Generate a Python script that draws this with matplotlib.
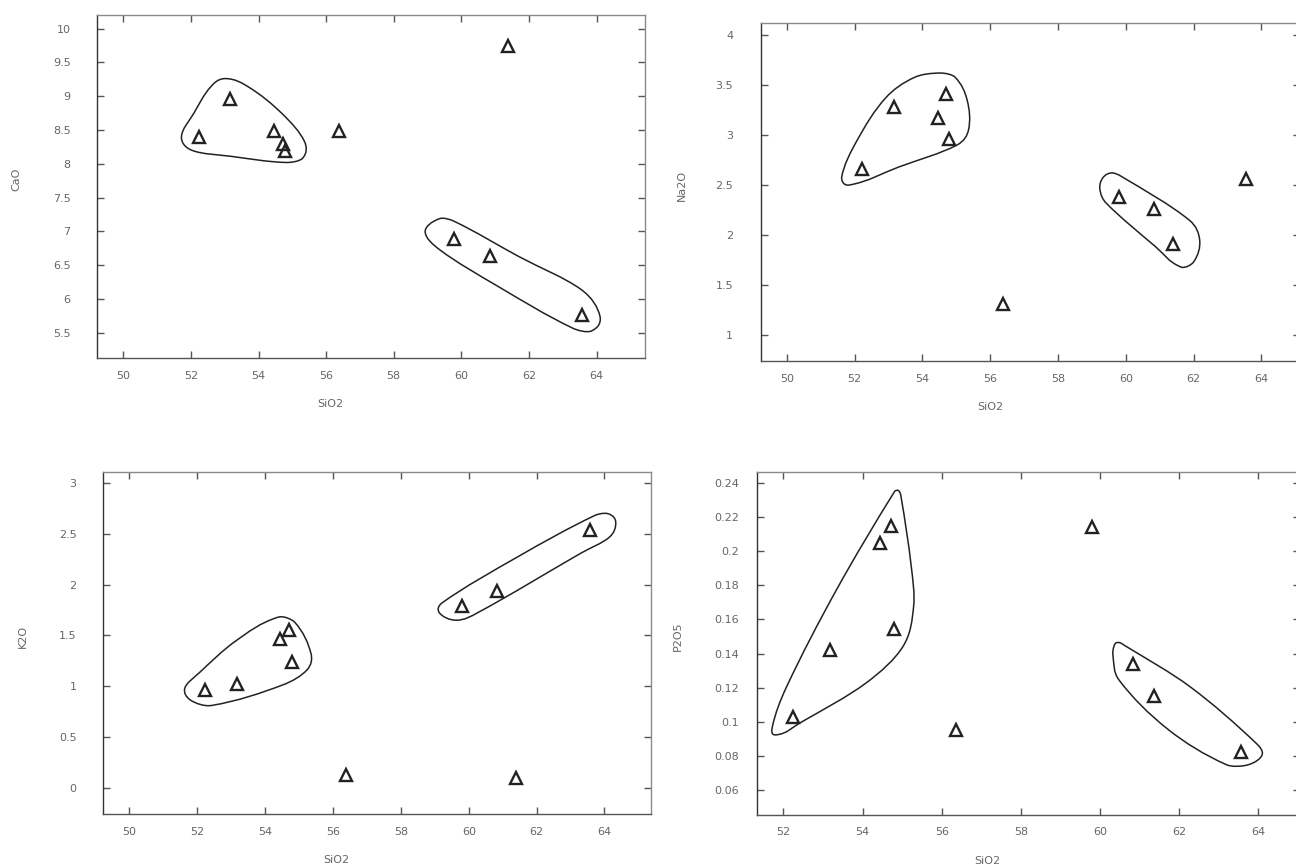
''' SiO2 variation diagrams (CaO, Na2O, K2O, P2O5) with grouped samples '''
import numpy as np
import matplotlib
matplotlib.use("Agg")
import matplotlib.pyplot as plt
from matplotlib.path import Path
from matplotlib.patches import PathPatch


# Sample values
sio2 = [52.23, 53.17, 54.45, 54.71, 54.79, 56.37, 59.79, 60.84, 61.38, 63.56]
cao = [8.40, 8.96, 8.48, 8.30, 8.19, 8.48, 6.89, 6.64, 9.74, 5.77]
na2o = [2.66, 3.28, 3.17, 3.41, 2.96, 1.31, 2.38, 2.26, 1.91, 2.56]
k2o = [0.96, 1.02, 1.46, 1.55, 1.24, 0.12, 1.79, 1.94, 0.10, 2.54]
p2o5 = [0.103, 0.142, 0.205, 0.215, 0.1545, 0.095, 0.214, 0.134, 0.115, 0.0825]

sio2_ticks = [50, 52, 54, 56, 58, 60, 62, 64]
cao_ticks = [5.5, 6, 6.5, 7, 7.5, 8, 8.5, 9, 9.5, 10]
na2o_ticks = [1, 1.5, 2, 2.5, 3, 3.5, 4]
k2o_ticks = [0, 0.5, 1, 1.5, 2, 2.5, 3]
p2o5_ticks = [0.06, 0.08, 0.1, 0.12, 0.14, 0.16, 0.18, 0.2, 0.22, 0.24]

# Hand-drawn group outlines (outline points in data units)
cao_loop1_x = [53.02, 53.69, 54.68, 55.36, 55.30, 54.80, 53.20, 52.03, 51.72, 52.09, 52.59]
cao_loop1_y = [9.26, 9.14, 8.75, 8.33, 8.08, 8.02, 8.11, 8.20, 8.40, 8.75, 9.14]
cao_loop2_x = [59.36, 59.79, 61.70, 63.55, 64.10, 63.85, 63.30, 61.08, 59.36, 58.93]
cao_loop2_y = [7.19, 7.15, 6.63, 6.14, 5.75, 5.53, 5.57, 6.19, 6.73, 7.00]

na2o_loop1_x = [54.53, 54.96, 55.32, 55.36, 55.02, 53.30, 51.84, 51.62, 52.08, 52.94, 53.79]
na2o_loop1_y = [3.62, 3.58, 3.35, 3.05, 2.90, 2.68, 2.50, 2.58, 2.95, 3.38, 3.58]
na2o_loop2_x = [59.55, 59.85, 61.87, 62.18, 62.00, 61.63, 60.89, 59.42, 59.24, 59.30]
na2o_loop2_y = [2.62, 2.59, 2.15, 1.95, 1.73, 1.68, 1.88, 2.32, 2.45, 2.56]

k2o_loop1_x = [54.38, 54.87, 55.35, 55.23, 54.50, 52.42, 51.81, 51.63, 52.05, 53.15]
k2o_loop1_y = [1.68, 1.63, 1.32, 1.16, 1.01, 0.81, 0.86, 0.98, 1.13, 1.45]
k2o_loop2_x = [64.10, 64.33, 64.15, 63.30, 60.24, 59.63, 59.14, 59.21, 61.47, 63.70]
k2o_loop2_y = [2.70, 2.62, 2.47, 2.31, 1.72, 1.65, 1.72, 1.82, 2.28, 2.68]

p2o5_loop1_x = [54.90, 54.97, 55.23, 55.29, 55.02, 54.08, 52.40, 51.82, 51.72, 52.08, 53.34, 54.81]
p2o5_loop1_y = [0.2357, 0.2322, 0.1911, 0.1676, 0.1441, 0.1226, 0.0991, 0.0923,
                0.0972, 0.1206, 0.1774, 0.2351]
p2o5_loop2_x = [60.45, 60.62, 62.27, 63.95, 64.10, 63.74, 63.21, 61.74, 60.48, 60.33, 60.36]
p2o5_loop2_y = [0.1465, 0.1448, 0.1207, 0.0874, 0.0805, 0.0747, 0.0747, 0.0952,
                0.1246, 0.1390, 0.1445]


def loop_path(xs, ys, sx, sy):
    # closed smooth curve through the outline points; handles are sized by
    # the chord length (in axes-like units) so short steps do not overshoot
    q = np.column_stack([xs, ys]) / [sx, sy]
    n = len(q)
    tang = []
    for i in range(n):
        d = q[(i + 1) % n] - q[i - 1]
        tang.append(d / np.hypot(*d))
    verts = [q[0]]
    codes = [Path.MOVETO]
    for i in range(n):
        j = (i + 1) % n
        L = np.hypot(*(q[j] - q[i])) / 3
        verts += [q[i] + tang[i] * L, q[j] - tang[j] * L, q[j]]
        codes += [Path.CURVE4] * 3
    verts = np.array(verts) * [sx, sy]
    return Path(verts, codes)


def panel(rect, y, yname, yticks, xlim, ylim, loops, ypad):
    ax = fig.add_axes(rect)
    ax.plot(sio2, y, linestyle="none", marker="^", markersize=8.5,
            markerfacecolor="none", markeredgecolor="#222222",
            markeredgewidth=1.7)
    sx = (xlim[1] - xlim[0]) / rect[2]
    sy = (ylim[1] - ylim[0]) / rect[3] * 866 / 1296
    for lx, ly in loops:
        ax.add_patch(PathPatch(loop_path(lx, ly, sx, sy), facecolor="none",
                               edgecolor="#222222", linewidth=1.1))
    ax.set_xticks(sio2_ticks)
    ax.set_xticklabels([str(t) for t in sio2_ticks])
    ax.set_yticks(yticks)
    ax.set_yticklabels(["%g" % t for t in yticks])
    # limits after the ticks, so the ticks do not widen the view
    ax.set_xlim(xlim)
    ax.set_ylim(ylim)
    ax.tick_params(axis="both", direction="in", length=5, width=1,
                   top=True, right=True, labelsize=8, labelcolor="#666666",
                   color="#555555")
    ax.tick_params(axis="y", pad=ypad)
    ax.tick_params(axis="x", pad=9)
    ax.spines["left"].set_color("#333333")
    ax.spines["bottom"].set_color("#555555")
    ax.spines["top"].set_color("#8a8a8a")
    ax.spines["right"].set_color("#8a8a8a")
    for s in ax.spines.values():
        s.set_linewidth(1.0)
    ax.set_xlabel("SiO2", fontsize=8, color="#666666")
    ax.set_ylabel(yname, fontsize=8, color="#666666")
    ax.xaxis.set_label_coords(0.425, -0.12)
    ax.yaxis.set_label_coords(-0.137, 0.52)
    return ax


fig = plt.figure(figsize=(12.96, 8.66), dpi=100)

panel([0.0748, 0.5866, 0.4228, 0.3961], cao, "CaO", cao_ticks,
      (49.22, 65.43), (5.13, 10.2),
      [(cao_loop1_x, cao_loop1_y), (cao_loop2_x, cao_loop2_y)], 19)
panel([0.5872, 0.5831, 0.4159, 0.3903], na2o, "Na2O", na2o_ticks,
      (49.24, 65.14), (0.74, 4.12),
      [(na2o_loop1_x, na2o_loop1_y), (na2o_loop2_x, na2o_loop2_y)], 20)
panel([0.0795, 0.0600, 0.4228, 0.3949], k2o, "K2O", k2o_ticks,
      (49.22, 65.37), (-0.26, 3.11),
      [(k2o_loop1_x, k2o_loop1_y), (k2o_loop2_x, k2o_loop2_y)], 19)
panel([0.5841, 0.0589, 0.4190, 0.3961], p2o5, "P2O5", p2o5_ticks,
      (51.33, 65.06), (0.0453, 0.2465),
      [(p2o5_loop1_x, p2o5_loop1_y), (p2o5_loop2_x, p2o5_loop2_y)], 13)

fig.savefig("out.png", dpi=100, facecolor="white")
